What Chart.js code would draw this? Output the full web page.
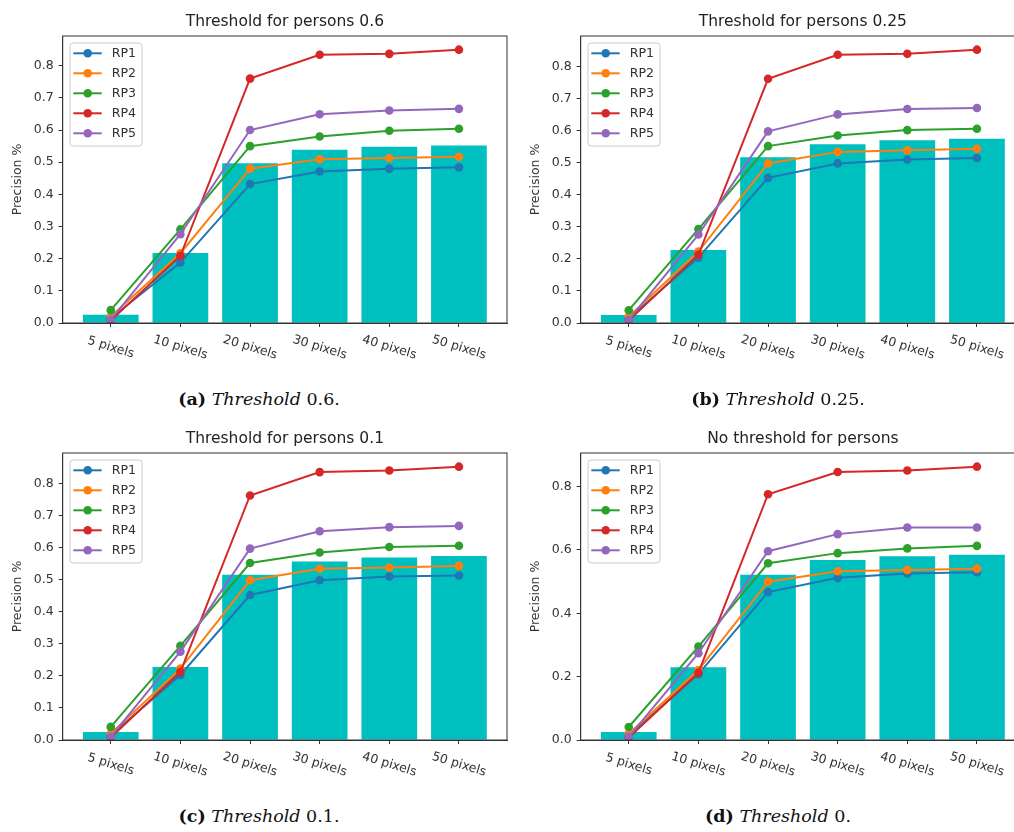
<!DOCTYPE html>
<html>
<head>
<meta charset="utf-8">
<script src="https://cdn.jsdelivr.net/npm/chart.js@4.4.1/dist/chart.umd.min.js"></script>
<style>
  body { margin: 0; width: 1014px; height: 832px; overflow: hidden; background: #fff; position: relative; }
  .panel { position: absolute; }
  .caption {
    position: absolute; width: 300px; height: 24px; line-height: 24px;
    text-align: center; font-family: "DejaVu Serif", serif; font-size: 17.5px; color: #111;
  }
</style>
</head>
<body>
<canvas id="chartA" class="panel" width="520" height="370" style="left:0px;top:0px"></canvas>
<canvas id="chartB" class="panel" width="520" height="370" style="left:518px;top:0px"></canvas>
<canvas id="chartC" class="panel" width="520" height="370" style="left:0px;top:417px"></canvas>
<canvas id="chartD" class="panel" width="520" height="370" style="left:518px;top:417px"></canvas>

<div class="caption" style="left:109px;top:387px"><b>(a)</b> <i>Threshold</i> 0.6.</div>
<div class="caption" style="left:628px;top:387px"><b>(b)</b> <i>Threshold</i> 0.25.</div>
<div class="caption" style="left:109px;top:804px"><b>(c)</b> <i>Threshold</i> 0.1.</div>
<div class="caption" style="left:628px;top:804px"><b>(d)</b> <i>Threshold</i> 0.</div>

<script>
// x categories
const categories = ['5 pixels', '10 pixels', '20 pixels', '30 pixels', '40 pixels', '50 pixels'];
const seriesNames = ['RP1', 'RP2', 'RP3', 'RP4', 'RP5'];
const seriesColors = ['#1f77b4', '#ff7f0e', '#2ca02c', '#d62728', '#9467bd'];
const barColor = '#00bfbf';

// (a) threshold 0.6
const barsA = [0.026, 0.218, 0.497, 0.539, 0.548, 0.552];
const rp1A = [0.015, 0.188, 0.432, 0.471, 0.480, 0.484];
const rp2A = [0.020, 0.217, 0.480, 0.509, 0.513, 0.517];
const rp3A = [0.040, 0.291, 0.550, 0.580, 0.598, 0.604];
const rp4A = [0.008, 0.209, 0.760, 0.834, 0.837, 0.850];
const rp5A = [0.010, 0.276, 0.600, 0.649, 0.661, 0.666];

// (b) threshold 0.25
const barsB = [0.025, 0.228, 0.517, 0.558, 0.570, 0.575];
const rp1B = [0.015, 0.204, 0.453, 0.498, 0.510, 0.515];
const rp2B = [0.020, 0.223, 0.498, 0.534, 0.539, 0.544];
const rp3B = [0.040, 0.293, 0.552, 0.585, 0.602, 0.606];
const rp4B = [0.008, 0.213, 0.762, 0.837, 0.840, 0.853];
const rp5B = [0.010, 0.276, 0.598, 0.651, 0.668, 0.671];

// (c) threshold 0.1
const barsC = [0.025, 0.228, 0.516, 0.558, 0.570, 0.575];
const rp1C = [0.015, 0.203, 0.453, 0.499, 0.511, 0.514];
const rp2C = [0.020, 0.223, 0.499, 0.535, 0.539, 0.544];
const rp3C = [0.041, 0.294, 0.553, 0.586, 0.603, 0.607];
const rp4C = [0.008, 0.213, 0.764, 0.837, 0.842, 0.854];
const rp5C = [0.010, 0.276, 0.598, 0.652, 0.665, 0.669];

// (d) no threshold
const barsD = [0.025, 0.230, 0.522, 0.568, 0.580, 0.585];
const rp1D = [0.015, 0.208, 0.467, 0.512, 0.526, 0.530];
const rp2D = [0.020, 0.221, 0.500, 0.533, 0.537, 0.541];
const rp3D = [0.041, 0.295, 0.558, 0.590, 0.605, 0.613];
const rp4D = [0.008, 0.212, 0.776, 0.846, 0.851, 0.863];
const rp5D = [0.010, 0.274, 0.596, 0.650, 0.671, 0.671];

const FONT = '"DejaVu Sans", sans-serif';
const TEXT = '#333';

// frame, rotated category labels and the legend box inside the axes
const panelDecor = {
    id: 'panelDecor',
    afterDraw(chart) {
        const ctx = chart.ctx;
        const area = chart.chartArea;
        const xs = chart.scales.x;
        ctx.save();

        ctx.strokeStyle = TEXT;
        ctx.lineWidth = 1;
        ctx.strokeRect(area.left, area.top, area.right - area.left, area.bottom - area.top);

        ctx.fillStyle = TEXT;
        ctx.font = '12.5px ' + FONT;
        ctx.textAlign = 'center';
        ctx.textBaseline = 'middle';
        categories.forEach((label, i) => {
            ctx.save();
            ctx.translate(xs.getPixelForValue(i), area.bottom + 24.5);
            ctx.rotate(17 * Math.PI / 180);
            ctx.fillText(label, 0, 0);
            ctx.restore();
        });

        // legend
        const lx = area.left + 7.3, ly = area.top + 7;
        ctx.beginPath();
        if (ctx.roundRect) ctx.roundRect(lx, ly, 72, 103, 3); else ctx.rect(lx, ly, 72, 103);
        ctx.fillStyle = 'rgba(255,255,255,0.8)';
        ctx.fill();
        ctx.strokeStyle = '#cccccc';
        ctx.stroke();

        const lines = chart.data.datasets.filter(d => d.type === 'line');
        ctx.font = '12.6px ' + FONT;
        ctx.textAlign = 'left';
        lines.forEach((ds, i) => {
            const y = area.top + 17.3 + 20 * i;
            ctx.strokeStyle = ds.borderColor;
            ctx.lineWidth = 2;
            ctx.beginPath();
            ctx.moveTo(area.left + 10.6, y);
            ctx.lineTo(area.left + 39, y);
            ctx.stroke();
            ctx.fillStyle = ds.borderColor;
            ctx.beginPath();
            ctx.arc(area.left + 25, y, 4.3, 0, Math.PI * 2);
            ctx.fill();
            ctx.fillStyle = TEXT;
            ctx.fillText(ds.label, area.left + 49, y + 0.5);
        });
        ctx.restore();
    }
};

function makeChart(id, title, bars, lines, yStep) {
    const n = categories.length;
    const span = (n - 1) + 0.8;
    const xMin = -0.4 - 0.05 * span;
    const xMax = (n - 1) + 0.4 + 0.05 * span;
    const yMax = Math.max(...bars, ...lines.flat()) * 1.05;

    const datasets = [{
        type: 'bar',
        label: 'bars',
        data: bars.map((v, i) => ({x: i, y: v})),
        backgroundColor: barColor,
        borderWidth: 0,
        barPercentage: 0.8,
        categoryPercentage: 1,
        order: 10
    }];
    lines.forEach((vals, k) => {
        datasets.push({
            type: 'line',
            label: seriesNames[k],
            data: vals.map((v, i) => ({x: i, y: v})),
            borderColor: seriesColors[k],
            backgroundColor: seriesColors[k],
            pointBackgroundColor: seriesColors[k],
            pointBorderWidth: 0,
            pointRadius: 4.3,
            pointHoverRadius: 4.3,
            borderWidth: 2,
            tension: 0,
            fill: false,
            order: lines.length - k
        });
    });

    return new Chart(document.getElementById(id), {
        type: 'bar',
        data: {datasets: datasets},
        plugins: [panelDecor],
        options: {
            responsive: false,
            animation: false,
            events: [],
            layout: {padding: {left: 0, right: 13, top: 0, bottom: 0}},
            plugins: {
                legend: {display: false},
                tooltip: {enabled: false},
                title: {
                    display: true,
                    fullSize: false,
                    text: title,
                    color: '#222',
                    font: {family: FONT, size: 15.5, weight: 'normal'},
                    padding: {top: 12.2, bottom: 5.2}
                }
            },
            scales: {
                x: {
                    type: 'linear',
                    offset: false,
                    min: xMin,
                    max: xMax,
                    afterBuildTicks: s => { s.ticks = categories.map((c, i) => ({value: i})); },
                    afterFit: s => { s.height = 47; },
                    ticks: {display: false},
                    grid: {offset: false, drawOnChartArea: false, drawTicks: true, tickLength: 4, tickColor: TEXT},
                    border: {display: true, color: TEXT}
                },
                y: {
                    min: 0,
                    max: yMax,
                    afterBuildTicks: s => {
                        const t = [];
                        for (let k = 0; k * yStep <= yMax + 1e-9; k++) t.push({value: +(k * yStep).toFixed(2)});
                        s.ticks = t;
                    },
                    afterFit: s => { s.width = 62.7; },
                    ticks: {
                        color: TEXT,
                        padding: 5,
                        font: {family: FONT, size: 12.5},
                        callback: v => v.toFixed(1)
                    },
                    grid: {drawOnChartArea: false, drawTicks: true, tickLength: 4, tickColor: TEXT},
                    border: {display: true, color: TEXT},
                    title: {
                        display: true,
                        text: 'Precision %',
                        color: TEXT,
                        font: {family: FONT, size: 12.5},
                        padding: {top: 10, bottom: 0}
                    }
                }
            }
        }
    });
}

makeChart('chartA', 'Threshold for persons 0.6', barsA, [rp1A, rp2A, rp3A, rp4A, rp5A], 0.1);
makeChart('chartB', 'Threshold for persons 0.25', barsB, [rp1B, rp2B, rp3B, rp4B, rp5B], 0.1);
makeChart('chartC', 'Threshold for persons 0.1', barsC, [rp1C, rp2C, rp3C, rp4C, rp5C], 0.1);
makeChart('chartD', 'No threshold for persons', barsD, [rp1D, rp2D, rp3D, rp4D, rp5D], 0.2);
</script>
</body>
</html>
